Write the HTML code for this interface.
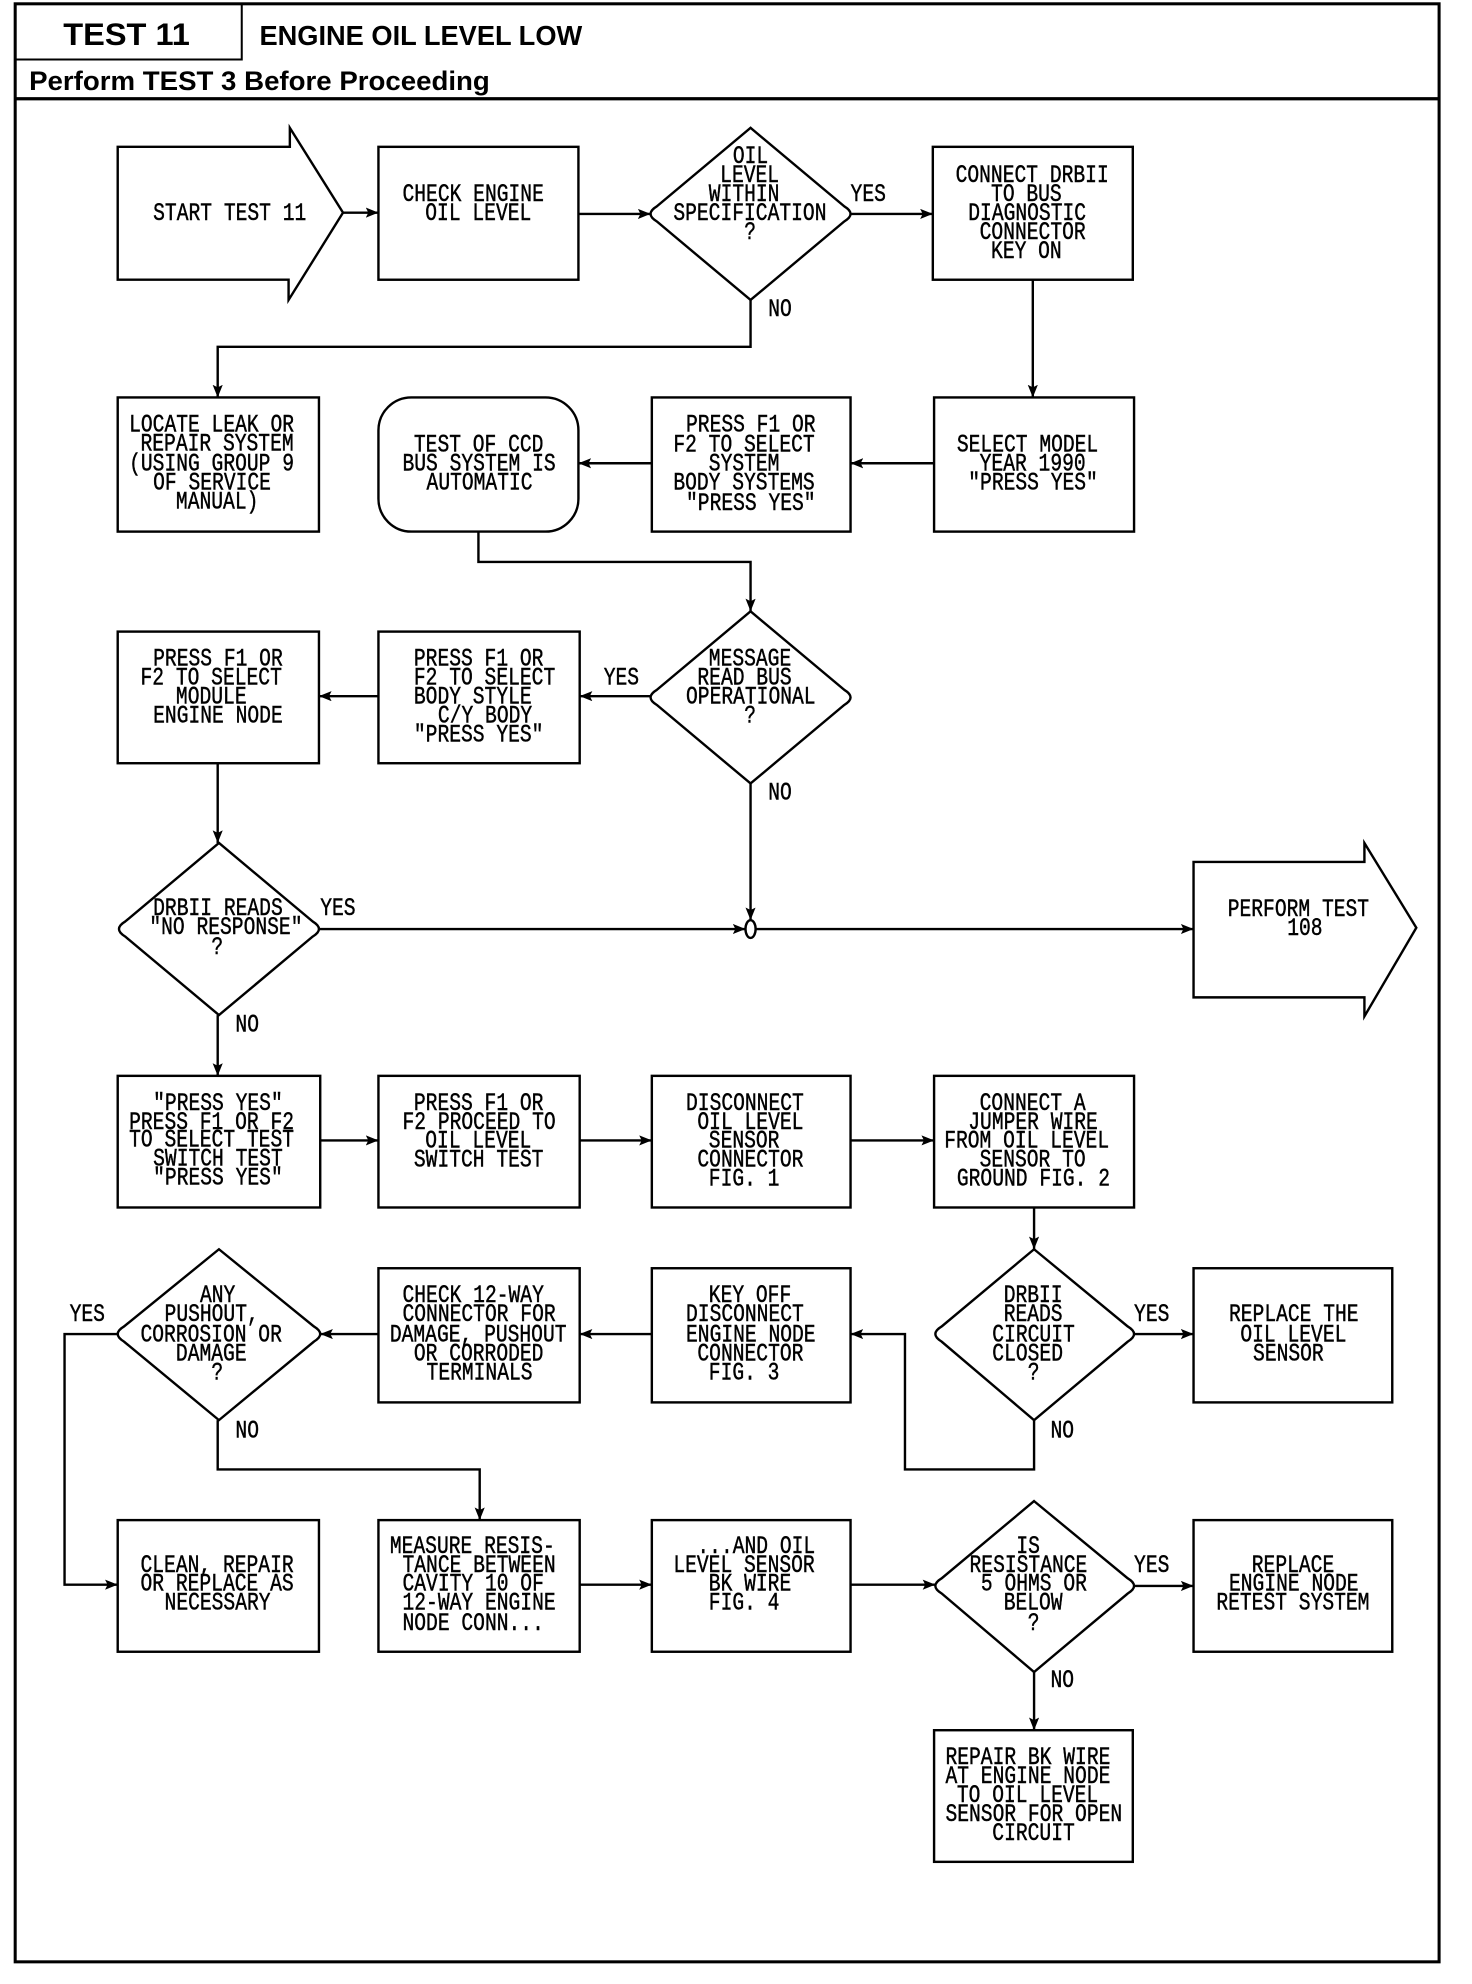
<!DOCTYPE html>
<html><head><meta charset="utf-8"><title>TEST 11</title>
<style>
html,body{margin:0;padding:0;background:#fff;width:1472px;height:1984px;overflow:hidden}
svg{display:block}
.s{fill:#fff;stroke:#000;stroke-width:1.9}
.c{fill:none;stroke:#000;stroke-width:1.9;marker-end:url(#a)}
.l{font:19.4px "Liberation Mono",monospace;fill:#000;stroke:#000;stroke-width:.35}
.h{font-family:"Liberation Sans",sans-serif;font-weight:bold;fill:#000}
</style></head><body>
<svg width="1472" height="1984" viewBox="0 0 1163 1567.500" xmlns="http://www.w3.org/2000/svg">
<defs><marker id="a" markerUnits="userSpaceOnUse" markerWidth="11" markerHeight="10" refX="10" refY="4" orient="auto"><path d="M0,0 L10,4 L0,8 L2,4Z" fill="#000"/></marker></defs>
<rect width="1163" height="1567.500" fill="#fff"/>
<rect x="12" y="3" width="1125" height="1547" fill="none" stroke="#000" stroke-width="2.4"/>
<path d="M12,47H191V3" fill="none" stroke="#000" stroke-width="1.6"/>
<path d="M12,78H1137" fill="none" stroke="#000" stroke-width="2.6"/>
<text class="h" x="50" y="35.500" font-size="25" textLength="100" lengthAdjust="spacingAndGlyphs">TEST 11</text>
<text class="h" x="205" y="35.500" font-size="22" textLength="255" lengthAdjust="spacingAndGlyphs">ENGINE OIL LEVEL LOW</text>
<text class="h" x="23" y="71" font-size="21" textLength="364" lengthAdjust="spacingAndGlyphs">Perform TEST 3 Before Proceeding</text>

<path class="s" d="M93,116H229V101L271,168L228,237V221H93Z"/>
<path class="s" d="M943,681H1078V666L1119,733L1078,803V788H943Z"/>
<path class="s" d="M593,101L667,163Q677,169 667,175L593,237L519,175Q509,169 519,163Z"/>
<path class="s" d="M593,483L667,545Q677,551 667,557L593,619L519,557Q509,551 519,545Z"/>
<path class="s" d="M173,666L247,728Q257,734 247,740L173,802L99,740Q89,734 99,728Z"/>
<path class="s" d="M173,987L248,1048Q258,1054 248,1060L173,1122L98,1060Q88,1054 98,1048Z"/>
<path class="s" d="M817,987L891,1048Q901,1054 891,1060L817,1122L744,1060Q734,1054 744,1048Z"/>
<path class="s" d="M817,1186L891,1247Q901,1253 891,1259L817,1321L744,1259Q734,1253 744,1247Z"/>
<rect class="s" x="299" y="116" width="158" height="105"/>
<rect class="s" x="737" y="116" width="158" height="105"/>
<rect class="s" x="93" y="314" width="159" height="106"/>
<rect class="s" x="299" y="314" width="158" height="106" rx="26"/>
<rect class="s" x="515" y="314" width="157" height="106"/>
<rect class="s" x="738" y="314" width="158" height="106"/>
<rect class="s" x="299" y="499" width="159" height="104"/>
<rect class="s" x="93" y="499" width="159" height="104"/>
<rect class="s" x="93" y="850" width="160" height="104"/>
<rect class="s" x="299" y="850" width="159" height="104"/>
<rect class="s" x="515" y="850" width="157" height="104"/>
<rect class="s" x="738" y="850" width="158" height="104"/>
<rect class="s" x="299" y="1002" width="159" height="106"/>
<rect class="s" x="515" y="1002" width="157" height="106"/>
<rect class="s" x="943" y="1002" width="157" height="106"/>
<rect class="s" x="93" y="1201" width="159" height="104"/>
<rect class="s" x="299" y="1201" width="159" height="104"/>
<rect class="s" x="515" y="1201" width="157" height="104"/>
<rect class="s" x="943" y="1201" width="157" height="104"/>
<rect class="s" x="738" y="1367" width="157" height="104"/>

<path class="c" d="M271,168H299"/>
<path class="c" d="M457,169H514"/>
<path class="c" d="M672,169H737"/>
<path class="c" d="M593,237V274H172V314"/>
<path class="c" d="M816,221V314"/>
<path class="c" d="M738,366H672"/>
<path class="c" d="M515,366H457"/>
<path class="c" d="M378,420V444H593V483"/>
<path class="c" d="M514,550H458"/>
<path class="c" d="M299,550H252"/>
<path class="c" d="M172,603V666"/>
<path class="c" d="M593,619V727"/>
<path class="c" d="M252,734H589"/>
<path class="c" d="M597,734H943"/>
<path class="c" d="M172,802V850"/>
<path class="c" d="M253,901H299"/>
<path class="c" d="M458,901H515"/>
<path class="c" d="M672,901H738"/>
<path class="c" d="M817,954V987"/>
<path class="c" d="M896,1054H943"/>
<path class="c" d="M817,1122V1161H715V1054H672"/>
<path class="c" d="M515,1054H458"/>
<path class="c" d="M299,1054H253"/>
<path class="c" d="M93,1054H51V1252H93"/>
<path class="c" d="M172,1122V1161H379V1201"/>
<path class="c" d="M458,1252H515"/>
<path class="c" d="M672,1252H739"/>
<path class="c" d="M896,1253H943"/>
<path class="c" d="M817,1321V1367"/>
<ellipse cx="593" cy="734" rx="4" ry="7" fill="#fff" stroke="#000" stroke-width="1.9"/>

<g class="l" transform="translate(0 5.800)">
<text transform="translate(121 168) scale(.8 1)">START TEST 11</text>
<text transform="translate(318 153) scale(.8 1)">CHECK ENGINE</text>
<text transform="translate(336 168) scale(.8 1)">OIL LEVEL</text>
<text transform="translate(579 123) scale(.8 1)">OIL</text>
<text transform="translate(569 138) scale(.8 1)">LEVEL</text>
<text transform="translate(560 153) scale(.8 1)">WITHIN</text>
<text transform="translate(532 168) scale(.8 1)">SPECIFICATION</text>
<text transform="translate(588 183) scale(.8 1)">?</text>
<text transform="translate(755 138) scale(.8 1)">CONNECT DRBII</text>
<text transform="translate(783 153) scale(.8 1)">TO BUS</text>
<text transform="translate(765 168) scale(.8 1)">DIAGNOSTIC</text>
<text transform="translate(774 183) scale(.8 1)">CONNECTOR</text>
<text transform="translate(783 198) scale(.8 1)">KEY ON</text>
<text transform="translate(672 153) scale(.8 1)">YES</text>
<text transform="translate(607 244) scale(.8 1)">NO</text>
<text transform="translate(102 335) scale(.8 1)">LOCATE LEAK OR</text>
<text transform="translate(111 350) scale(.8 1)">REPAIR SYSTEM</text>
<text transform="translate(102 366) scale(.8 1)">(USING GROUP 9</text>
<text transform="translate(121 381) scale(.8 1)">OF SERVICE</text>
<text transform="translate(139 396) scale(.8 1)">MANUAL)</text>
<text transform="translate(327 351) scale(.8 1)">TEST OF CCD</text>
<text transform="translate(318 366) scale(.8 1)">BUS SYSTEM IS</text>
<text transform="translate(337 381) scale(.8 1)">AUTOMATIC</text>
<text transform="translate(542 335) scale(.8 1)">PRESS F1 OR</text>
<text transform="translate(532 351) scale(.8 1)">F2 TO SELECT</text>
<text transform="translate(560 366) scale(.8 1)">SYSTEM</text>
<text transform="translate(532 381) scale(.8 1)">BODY SYSTEMS</text>
<text transform="translate(542 397) scale(.8 1)">"PRESS YES"</text>
<text transform="translate(756 351) scale(.8 1)">SELECT MODEL</text>
<text transform="translate(774 366) scale(.8 1)">YEAR 1990</text>
<text transform="translate(765 381) scale(.8 1)">"PRESS YES"</text>
<text transform="translate(560 520) scale(.8 1)">MESSAGE</text>
<text transform="translate(551 535) scale(.8 1)">READ BUS</text>
<text transform="translate(542 550) scale(.8 1)">OPERATIONAL</text>
<text transform="translate(588 565) scale(.8 1)">?</text>
<text transform="translate(477 535) scale(.8 1)">YES</text>
<text transform="translate(607 626) scale(.8 1)">NO</text>
<text transform="translate(327 520) scale(.8 1)">PRESS F1 OR</text>
<text transform="translate(327 535) scale(.8 1)">F2 TO SELECT</text>
<text transform="translate(327 550) scale(.8 1)">BODY STYLE</text>
<text transform="translate(346 565) scale(.8 1)">C/Y BODY</text>
<text transform="translate(327 580) scale(.8 1)">"PRESS YES"</text>
<text transform="translate(121 520) scale(.8 1)">PRESS F1 OR</text>
<text transform="translate(111 535) scale(.8 1)">F2 TO SELECT</text>
<text transform="translate(139 550) scale(.8 1)">MODULE</text>
<text transform="translate(121 565) scale(.8 1)">ENGINE NODE</text>
<text transform="translate(121 717) scale(.8 1)">DRBII READS</text>
<text transform="translate(118 732) scale(.8 1)">"NO RESPONSE"</text>
<text transform="translate(167 748) scale(.8 1)">?</text>
<text transform="translate(253 717) scale(.8 1)">YES</text>
<text transform="translate(186 809) scale(.8 1)">NO</text>
<text transform="translate(970 718) scale(.8 1)">PERFORM TEST</text>
<text transform="translate(1017 733) scale(.8 1)">108</text>
<text transform="translate(121 871) scale(.8 1)">"PRESS YES"</text>
<text transform="translate(102 886) scale(.8 1)">PRESS F1 OR F2</text>
<text transform="translate(102 900) scale(.8 1)">TO SELECT TEST</text>
<text transform="translate(121 915) scale(.8 1)">SWITCH TEST</text>
<text transform="translate(121 930) scale(.8 1)">"PRESS YES"</text>
<text transform="translate(327 871) scale(.8 1)">PRESS F1 OR</text>
<text transform="translate(318 886) scale(.8 1)">F2 PROCEED TO</text>
<text transform="translate(336 901) scale(.8 1)">OIL LEVEL</text>
<text transform="translate(327 916) scale(.8 1)">SWITCH TEST</text>
<text transform="translate(542 871) scale(.8 1)">DISCONNECT</text>
<text transform="translate(551 886) scale(.8 1)">OIL LEVEL</text>
<text transform="translate(560 901) scale(.8 1)">SENSOR</text>
<text transform="translate(551 916) scale(.8 1)">CONNECTOR</text>
<text transform="translate(560 931) scale(.8 1)">FIG. 1</text>
<text transform="translate(774 871) scale(.8 1)">CONNECT A</text>
<text transform="translate(765 886) scale(.8 1)">JUMPER WIRE</text>
<text transform="translate(746 901) scale(.8 1)">FROM OIL LEVEL</text>
<text transform="translate(774 916) scale(.8 1)">SENSOR TO</text>
<text transform="translate(756 931) scale(.8 1)">GROUND FIG. 2</text>
<text transform="translate(158 1023) scale(.8 1)">ANY</text>
<text transform="translate(130 1038) scale(.8 1)">PUSHOUT,</text>
<text transform="translate(111 1054) scale(.8 1)">CORROSION OR</text>
<text transform="translate(139 1069) scale(.8 1)">DAMAGE</text>
<text transform="translate(167 1084) scale(.8 1)">?</text>
<text transform="translate(55 1038) scale(.8 1)">YES</text>
<text transform="translate(186 1130) scale(.8 1)">NO</text>
<text transform="translate(318 1023) scale(.8 1)">CHECK 12-WAY</text>
<text transform="translate(318 1038) scale(.8 1)">CONNECTOR FOR</text>
<text transform="translate(308 1054) scale(.8 1)">DAMAGE, PUSHOUT</text>
<text transform="translate(327 1069) scale(.8 1)">OR CORRODED</text>
<text transform="translate(337 1084) scale(.8 1)">TERMINALS</text>
<text transform="translate(560 1023) scale(.8 1)">KEY OFF</text>
<text transform="translate(542 1038) scale(.8 1)">DISCONNECT</text>
<text transform="translate(542 1054) scale(.8 1)">ENGINE NODE</text>
<text transform="translate(551 1069) scale(.8 1)">CONNECTOR</text>
<text transform="translate(560 1084) scale(.8 1)">FIG. 3</text>
<text transform="translate(793 1023) scale(.8 1)">DRBII</text>
<text transform="translate(793 1038) scale(.8 1)">READS</text>
<text transform="translate(784 1054) scale(.8 1)">CIRCUIT</text>
<text transform="translate(784 1069) scale(.8 1)">CLOSED</text>
<text transform="translate(812 1084) scale(.8 1)">?</text>
<text transform="translate(896 1038) scale(.8 1)">YES</text>
<text transform="translate(830 1130) scale(.8 1)">NO</text>
<text transform="translate(971 1038) scale(.8 1)">REPLACE THE</text>
<text transform="translate(980 1054) scale(.8 1)">OIL LEVEL</text>
<text transform="translate(990 1069) scale(.8 1)">SENSOR</text>
<text transform="translate(111 1236) scale(.8 1)">CLEAN, REPAIR</text>
<text transform="translate(111 1251) scale(.8 1)">OR REPLACE AS</text>
<text transform="translate(130 1266) scale(.8 1)">NECESSARY</text>
<text transform="translate(308 1221) scale(.8 1)">MEASURE RESIS-</text>
<text transform="translate(318 1236) scale(.8 1)">TANCE BETWEEN</text>
<text transform="translate(318 1251) scale(.8 1)">CAVITY 10 OF</text>
<text transform="translate(318 1266) scale(.8 1)">12-WAY ENGINE</text>
<text transform="translate(318 1282) scale(.8 1)">NODE CONN...</text>
<text transform="translate(551 1221) scale(.8 1)">...AND OIL</text>
<text transform="translate(532 1236) scale(.8 1)">LEVEL SENSOR</text>
<text transform="translate(560 1251) scale(.8 1)">BK WIRE</text>
<text transform="translate(560 1266) scale(.8 1)">FIG. 4</text>
<text transform="translate(803 1221) scale(.8 1)">IS</text>
<text transform="translate(766 1236) scale(.8 1)">RESISTANCE</text>
<text transform="translate(775 1251) scale(.8 1)">5 OHMS OR</text>
<text transform="translate(793 1266) scale(.8 1)">BELOW</text>
<text transform="translate(812 1282) scale(.8 1)">?</text>
<text transform="translate(896 1236) scale(.8 1)">YES</text>
<text transform="translate(830 1327) scale(.8 1)">NO</text>
<text transform="translate(989 1236) scale(.8 1)">REPLACE</text>
<text transform="translate(971 1251) scale(.8 1)">ENGINE NODE</text>
<text transform="translate(961 1266) scale(.8 1)">RETEST SYSTEM</text>
<text transform="translate(747 1388) scale(.8 1)">REPAIR BK WIRE</text>
<text transform="translate(747 1403) scale(.8 1)">AT ENGINE NODE</text>
<text transform="translate(756 1418) scale(.8 1)">TO OIL LEVEL</text>
<text transform="translate(747 1433) scale(.8 1)">SENSOR FOR OPEN</text>
<text transform="translate(784 1448) scale(.8 1)">CIRCUIT</text>
</g>
</svg>
</body></html>
